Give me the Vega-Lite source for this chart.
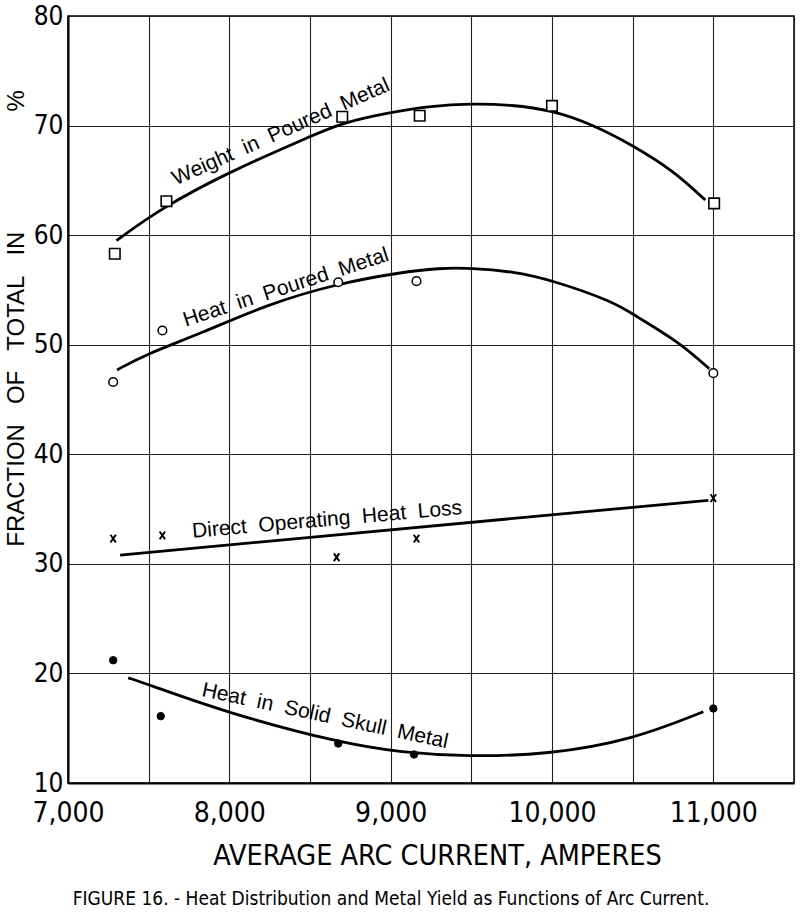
{
  "$schema": "https://vega.github.io/schema/vega-lite/v6.json",
  "width": 726,
  "height": 767,
  "autosize": {"type": "none"},
  "padding": {"left": 68, "top": 16, "right": 6, "bottom": 134},
  "background": "white",
  "title": {
    "text": "FIGURE 16. - Heat Distribution and Metal Yield as Functions of Arc Current.",
    "orient": "bottom",
    "anchor": "middle",
    "frame": "group",
    "offset": 20,
    "dx": -40,
    "font": "DejaVu Sans Condensed, sans-serif",
    "fontSize": 19,
    "fontWeight": "normal",
    "color": "black"
  },
  "config": {
    "view": {"stroke": "black", "strokeWidth": 1.5},
    "axis": {
      "domainColor": "black",
      "domainWidth": 2,
      "gridColor": "#222",
      "gridWidth": 1.1,
      "gridOpacity": 1,
      "ticks": false,
      "tickSize": 0,
      "labelColor": "black",
      "titleColor": "black",
      "labelFont": "DejaVu Sans Condensed, sans-serif",
      "titleFontWeight": "normal"
    }
  },
  "datasets": {
    "points": [
      {"series": "Weight", "current": 7290, "pct": 58.3},
      {"series": "Weight", "current": 7610, "pct": 63.1},
      {"series": "Weight", "current": 8700, "pct": 70.8},
      {"series": "Weight", "current": 9180, "pct": 70.9},
      {"series": "Weight", "current": 10000, "pct": 71.8},
      {"series": "Weight", "current": 11005, "pct": 62.9},
      {"series": "Heat", "current": 7280, "pct": 46.6},
      {"series": "Heat", "current": 7585, "pct": 51.3},
      {"series": "Heat", "current": 8675, "pct": 55.7},
      {"series": "Heat", "current": 9160, "pct": 55.8},
      {"series": "Heat", "current": 11000, "pct": 47.4},
      {"series": "Direct", "current": 7280, "pct": 32.3},
      {"series": "Direct", "current": 7585, "pct": 32.6},
      {"series": "Direct", "current": 8665, "pct": 30.6},
      {"series": "Direct", "current": 9160, "pct": 32.3},
      {"series": "Direct", "current": 11000, "pct": 36.0},
      {"series": "Skull", "current": 7280, "pct": 21.2},
      {"series": "Skull", "current": 7575, "pct": 16.1},
      {"series": "Skull", "current": 8675, "pct": 13.6},
      {"series": "Skull", "current": 9145, "pct": 12.6},
      {"series": "Skull", "current": 11000, "pct": 16.8}
    ],
    "curves": [
      {"series": "Weight", "current": 7300, "pct": 59.5},
      {"series": "Weight", "current": 7571, "pct": 62.4},
      {"series": "Weight", "current": 7988, "pct": 65.7},
      {"series": "Weight", "current": 8484, "pct": 68.9},
      {"series": "Weight", "current": 8708, "pct": 70.3},
      {"series": "Weight", "current": 9000, "pct": 71.2},
      {"series": "Weight", "current": 9250, "pct": 71.8},
      {"series": "Weight", "current": 9500, "pct": 72.0},
      {"series": "Weight", "current": 9750, "pct": 71.9},
      {"series": "Weight", "current": 10000, "pct": 71.4},
      {"series": "Weight", "current": 10250, "pct": 70.1},
      {"series": "Weight", "current": 10500, "pct": 68.2},
      {"series": "Weight", "current": 10750, "pct": 65.9},
      {"series": "Weight", "current": 10950, "pct": 63.2},
      {"series": "Heat", "current": 7304, "pct": 47.7},
      {"series": "Heat", "current": 7478, "pct": 49.1},
      {"series": "Heat", "current": 7820, "pct": 51.0},
      {"series": "Heat", "current": 8236, "pct": 53.7},
      {"series": "Heat", "current": 8677, "pct": 55.6},
      {"series": "Heat", "current": 9062, "pct": 56.6},
      {"series": "Heat", "current": 9300, "pct": 57.0},
      {"series": "Heat", "current": 9500, "pct": 57.0},
      {"series": "Heat", "current": 9750, "pct": 56.7},
      {"series": "Heat", "current": 10000, "pct": 55.9},
      {"series": "Heat", "current": 10385, "pct": 53.9},
      {"series": "Heat", "current": 10509, "pct": 52.7},
      {"series": "Heat", "current": 10783, "pct": 50.3},
      {"series": "Heat", "current": 10975, "pct": 47.8},
      {"series": "Direct", "current": 7323, "pct": 30.8},
      {"series": "Direct", "current": 10969, "pct": 35.8},
      {"series": "Skull", "current": 7373, "pct": 19.6},
      {"series": "Skull", "current": 7478, "pct": 19.1},
      {"series": "Skull", "current": 7963, "pct": 16.5},
      {"series": "Skull", "current": 8700, "pct": 13.6},
      {"series": "Skull", "current": 9062, "pct": 12.8},
      {"series": "Skull", "current": 9478, "pct": 12.4},
      {"series": "Skull", "current": 9975, "pct": 12.6},
      {"series": "Skull", "current": 10491, "pct": 13.9},
      {"series": "Skull", "current": 10938, "pct": 16.5}
    ],
    "labels": [
      {"series": "Weight", "current": 8320, "pct": 69.4, "text": "Weight\u00a0\u00a0in\u00a0\u00a0Poured\u00a0\u00a0Metal"},
      {"series": "Heat", "current": 8351, "pct": 55.2, "text": "Heat\u00a0\u00a0in\u00a0\u00a0Poured\u00a0\u00a0Metal"},
      {"series": "Direct", "current": 8606, "pct": 34.0, "text": "Direct\u00a0\u00a0Operating\u00a0\u00a0Heat\u00a0\u00a0Loss"},
      {"series": "Skull", "current": 8593, "pct": 16.1, "text": "Heat\u00a0\u00a0in\u00a0\u00a0Solid\u00a0\u00a0Skull\u00a0\u00a0Metal"}
    ]
  },
  "encoding": {
    "x": {
      "field": "current",
      "type": "quantitative",
      "scale": {"domain": [7000, 11500], "nice": false, "zero": false},
      "axis": {
        "values": [7000, 7500, 8000, 8500, 9000, 9500, 10000, 10500, 11000, 11500],
        "labelExpr": "datum.value % 1000 === 0 && datum.value < 11500 ? format(datum.value, ',') : ''",
        "labelFontSize": 28,
        "labelPadding": 16,
        "labelFlush": false,
        "labelOverlap": false,
        "title": "AVERAGE ARC CURRENT, AMPERES",
        "titleFont": "DejaVu Sans Condensed, sans-serif",
        "titleFontSize": 28.5,
        "titleX": 369,
        "titleY": 81,
        "titleBaseline": "alphabetic",
        "titleAlign": "center"
      }
    },
    "y": {
      "field": "pct",
      "type": "quantitative",
      "scale": {"domain": [10, 80], "nice": false, "zero": false},
      "axis": {
        "values": [10, 20, 30, 40, 50, 60, 70, 80],
        "labelFontSize": 26,
        "labelPadding": 5,
        "labelFlush": false,
        "labelOverlap": false,
        "labelBaseline": "middle",
        "title": "FRACTION\u00a0\u00a0\u00a0OF\u00a0\u00a0\u00a0TOTAL\u00a0\u00a0\u00a0IN\u00a0\u00a0\u00a0\u00a0\u00a0\u00a0\u00a0\u00a0\u00a0\u00a0\u00a0\u00a0\u00a0\u00a0\u00a0\u00a0\u00a0\u00a0%",
        "titleFont": "Liberation Sans, DejaVu Sans, sans-serif",
        "titleFontSize": 24,
        "titleAngle": -90,
        "titleX": -52,
        "titleY": 302,
        "titleBaseline": "middle",
        "titleAlign": "center"
      }
    }
  },
  "layer": [
    {
      "data": {"name": "curves"},
      "mark": {"type": "line", "interpolate": "basis", "stroke": "black", "strokeWidth": 2.8},
      "encoding": {"detail": {"field": "series"}}
    },
    {
      "data": {"name": "points"},
      "transform": [{"filter": "datum.series === 'Weight'"}],
      "mark": {"type": "point", "shape": "square", "size": 110, "filled": true, "fill": "white", "fillOpacity": 1, "stroke": "black", "strokeWidth": 1.6, "opacity": 1}
    },
    {
      "data": {"name": "points"},
      "transform": [{"filter": "datum.series === 'Heat'"}],
      "mark": {"type": "point", "shape": "circle", "size": 75, "filled": true, "fill": "white", "fillOpacity": 1, "stroke": "black", "strokeWidth": 1.5, "opacity": 1}
    },
    {
      "data": {"name": "points"},
      "transform": [{"filter": "datum.series === 'Direct'"}],
      "mark": {"type": "point", "shape": "M-0.7,-1L0.7,1M-0.7,1L0.7,-1", "size": 60, "filled": false, "stroke": "black", "strokeWidth": 2, "opacity": 1}
    },
    {
      "data": {"name": "points"},
      "transform": [{"filter": "datum.series === 'Skull'"}],
      "mark": {"type": "point", "shape": "circle", "size": 55, "filled": true, "fill": "black", "fillOpacity": 1, "stroke": "black", "strokeWidth": 1, "opacity": 1}
    },
    {
      "data": {"name": "labels"},
      "transform": [{"filter": "datum.series === 'Weight'"}],
      "mark": {"type": "text", "angle": -24, "font": "Liberation Sans, DejaVu Sans, sans-serif", "fontSize": 21, "color": "black", "align": "center", "baseline": "middle"},
      "encoding": {"text": {"field": "text"}}
    },
    {
      "data": {"name": "labels"},
      "transform": [{"filter": "datum.series === 'Heat'"}],
      "mark": {"type": "text", "angle": -18, "font": "Liberation Sans, DejaVu Sans, sans-serif", "fontSize": 21, "color": "black", "align": "center", "baseline": "middle"},
      "encoding": {"text": {"field": "text"}}
    },
    {
      "data": {"name": "labels"},
      "transform": [{"filter": "datum.series === 'Direct'"}],
      "mark": {"type": "text", "angle": -5, "font": "Liberation Sans, DejaVu Sans, sans-serif", "fontSize": 21, "color": "black", "align": "center", "baseline": "middle"},
      "encoding": {"text": {"field": "text"}}
    },
    {
      "data": {"name": "labels"},
      "transform": [{"filter": "datum.series === 'Skull'"}],
      "mark": {"type": "text", "angle": 12, "font": "Liberation Sans, DejaVu Sans, sans-serif", "fontSize": 21, "color": "black", "align": "center", "baseline": "middle"},
      "encoding": {"text": {"field": "text"}}
    }
  ]
}
